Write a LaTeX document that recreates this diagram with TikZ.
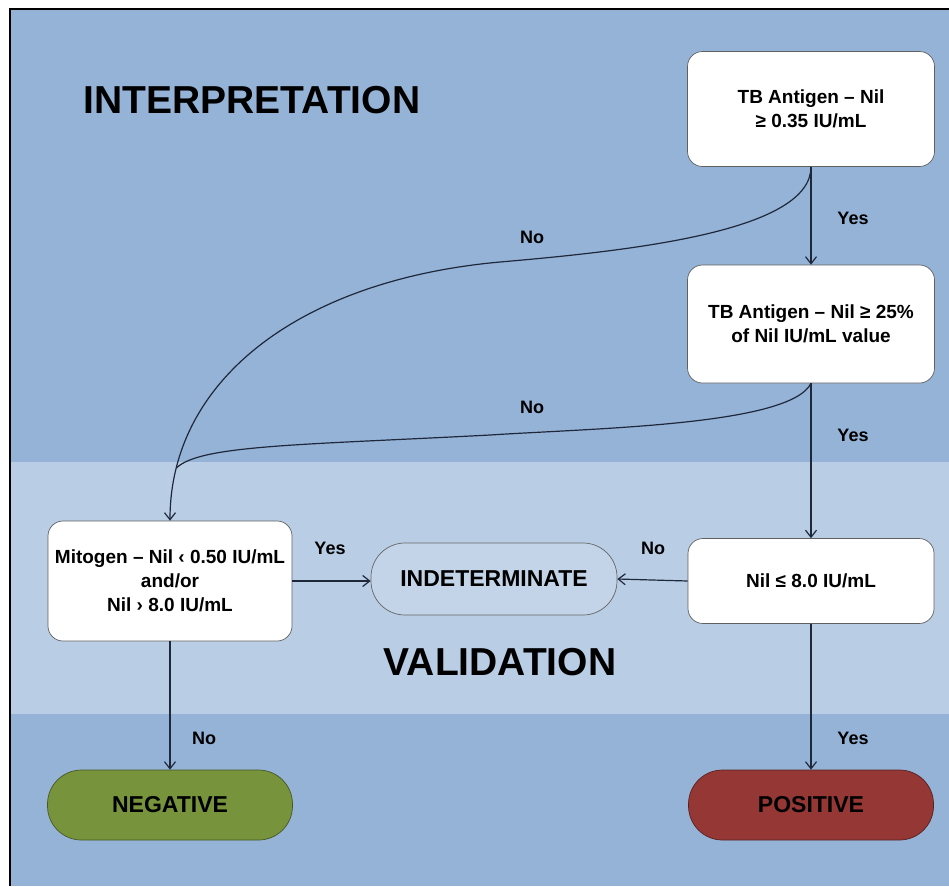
\documentclass[tikz,border=0pt]{standalone}
\usepackage{fontspec}
\setmainfont{Liberation Sans}
\usetikzlibrary{arrows.meta, positioning, calc}

\definecolor{bandDark}{RGB}{149,179,215}
\definecolor{bandLight}{RGB}{185,205,229}
\definecolor{lineDark}{RGB}{30,40,58}
\definecolor{negGreen}{RGB}{119,147,60}
\definecolor{posRed}{RGB}{149,55,53}

\begin{document}
\begin{tikzpicture}[x=1pt, y=-1pt, >={Straight Barb[length=7pt, width=11pt]},
  testbox/.style={draw=gray!75!black, line width=0.7pt, fill=white, rounded corners=15pt,
    align=center, inner sep=0pt, font=\fontsize{19}{24}\selectfont\bfseries},
  resultbox/.style={draw=#1!60!black, line width=0.7pt, fill=#1, rounded corners=34pt,
    minimum width=245pt, minimum height=70pt, font=\fontsize{23}{24}\selectfont\bfseries},
  conn/.style={draw=lineDark, line width=1.2pt},
  lbl/.style={font=\fontsize{18}{20}\selectfont\bfseries},
  title/.style={font=\fontsize{39}{44}\selectfont\bfseries}]
  \useasboundingbox (0,0) rectangle (949,886);
  % Bands
  \fill[bandDark] (10,9) rectangle (949,462);
  \fill[bandLight] (10,462) rectangle (949,714);
  \fill[bandDark] (10,714) rectangle (949,886);
  \draw[line width=2pt] (949,9) -- (10,9) -- (10,886);
  \node[title] (interp) at (252,100) {INTERPRETATION};
  \node[title] (valid) at (500,662) {VALIDATION};
  % Tests
  \node[testbox, minimum width=247pt, minimum height=115pt] (tbnil) at (811,109)
    {TB Antigen – Nil\\≥ 0.35 IU/mL};
  \node[testbox, minimum width=247pt, minimum height=118pt] (tbpct) at (811,324)
    {TB Antigen – Nil ≥ 25\%\\of Nil IU/mL value};
  \node[testbox, minimum width=246pt, minimum height=85pt] (nilchk) at (811,581)
    {Nil ≤ 8.0 IU/mL};
  \node[testbox, minimum width=244pt, minimum height=120pt] (mitchk) at (170,581)
    {Mitogen – Nil ‹ 0.50 IU/mL\\and/or\\Nil › 8.0 IU/mL};
  % Results
  \node[resultbox=bandLight!85!white, draw=gray!80!black, minimum width=246pt, minimum height=72pt]
    (indet) at (494,579) {INDETERMINATE};
  \node[resultbox=negGreen] (neg) at (170,805) {NEGATIVE};
  \node[resultbox=posRed] (pos) at (811,805) {POSITIVE};
  % Connectors
  \draw[conn, ->] (tbnil.south) -- (tbpct.north);
  \draw[conn, ->] (tbnil.south) .. controls (811,230) and (640,250) .. (500,262)
    .. controls (300,280) and (170,380) .. (mitchk.north) coordinate[pos=0.87] (join);
  \draw[conn] (tbpct.south) .. controls (790,425) and (600,428) .. (490,435)
    .. controls (300,445) and (200,445) .. (join);
  \draw[conn, ->] (tbpct.south) -- (nilchk.north);
  \draw[conn, ->] (nilchk.west) -- (indet.east);
  \draw[conn, ->] (mitchk.east) -- (indet.west |- mitchk.east);
  \draw[conn, ->] (mitchk.south) -- (neg.north);
  \draw[conn, ->] (nilchk.south) -- (pos.north);
  % Labels
  \node[lbl] at (853,218) {Yes};
  \node[lbl] at (532,237) {No};
  \node[lbl] at (532,407) {No};
  \node[lbl] at (853,435) {Yes};
  \node[lbl] at (330,548) {Yes};
  \node[lbl] at (653,548) {No};
  \node[lbl] at (204,738) {No};
  \node[lbl] at (853,738) {Yes};
\end{tikzpicture}
\end{document}
